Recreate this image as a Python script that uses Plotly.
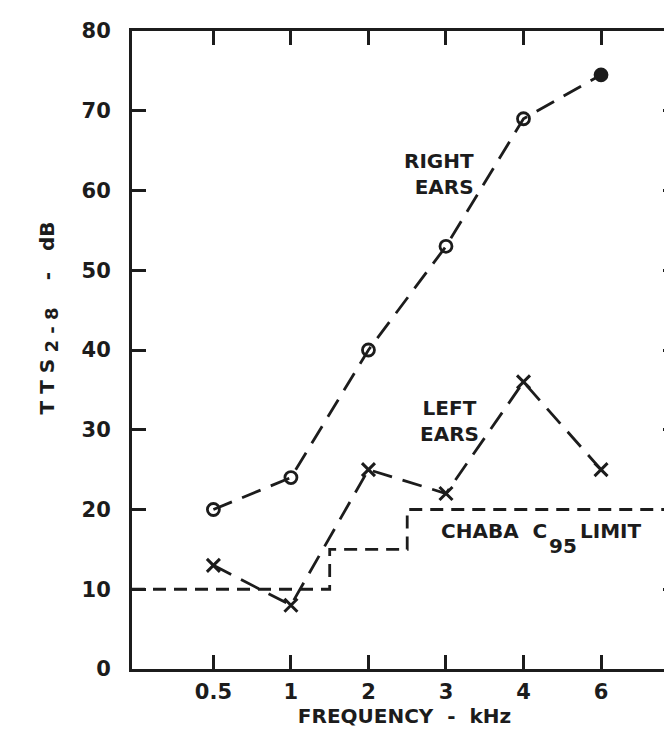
import plotly.graph_objects as go

freq_labels = ["0.5", "1", "2", "3", "4", "6"]
right_ears = [20, 24, 40, 53, 69, 74.5]
left_ears = [13, 8, 25, 22, 36, 25]
# CHABA C95 limit steps (positions on the category index scale)
limit_x = [-1.05, 1.5, 2.5, 5.98]
limit_y = [10, 15, 20, 20]
y_ticks = [0, 10, 20, 30, 40, 50, 60, 70, 80]

INK = "#1c1c1c"
FONT = "DejaVu Sans"
idx = list(range(len(freq_labels)))

fig = go.Figure()

fig.add_trace(go.Scatter(
    x=limit_x, y=limit_y, mode="lines", line_shape="hv",
    line=dict(color=INK, width=2.8, dash="13px,8px"), hoverinfo="skip"))

fig.add_trace(go.Scatter(
    x=idx, y=right_ears, mode="lines+markers",
    line=dict(color=INK, width=2.8, dash="20px,11px"),
    marker=dict(symbol=["circle-open"] * 5 + ["circle"], size=12, color=INK,
                line=dict(color=INK, width=2.8))))

fig.add_trace(go.Scatter(
    x=idx, y=left_ears, mode="lines+markers",
    line=dict(color=INK, width=2.8, dash="20px,11px"),
    marker=dict(symbol="x-thin-open", size=13, color=INK,
                line=dict(color=INK, width=3))))

tf = dict(family=FONT, size=21, color=INK, weight="bold")
axis_common = dict(showgrid=False, zeroline=False, showline=True, linecolor=INK,
                   linewidth=3, mirror="ticks", ticks="inside", ticklen=14,
                   tickwidth=2.8, tickcolor=INK, tickfont=tf)

fig.update_xaxes(range=[-1.05, 5.98], tickmode="array", tickvals=idx,
                 ticktext=freq_labels, ticklabelstandoff=2,
                 title=dict(text="FREQUENCY  -  kHz",
                            font=dict(family=FONT, size=20, color=INK, weight="bold"),
                            standoff=4),
                 **axis_common)
fig.update_yaxes(range=[0, 80], tickmode="array", tickvals=y_ticks,
                 ticklabelstandoff=14, **axis_common)

ann_font = dict(family=FONT, size=20, color=INK, weight="bold")
fig.add_annotation(xref="paper", yref="paper", x=-0.182, y=0.55,
                   text="T T S<sub><span style='font-size:18px'> 2 - 8 </span></sub>   -   dB",
                   textangle=-90, showarrow=False,
                   font=dict(family=FONT, size=20, color=INK, weight="bold"))
fig.add_annotation(x=2.91, y=62.1, text="RIGHT<br>EARS", align="right", showarrow=False,
                   font=ann_font)
fig.add_annotation(x=3.05, y=31.1, text="LEFT<br>EARS", showarrow=False, font=ann_font)
fig.add_annotation(x=2.91, y=17.3, xanchor="left", text="CHABA  C", showarrow=False, font=ann_font)
fig.add_annotation(x=4.3, y=15.4, xanchor="left", text="95", showarrow=False, font=ann_font)
fig.add_annotation(x=4.7, y=17.3, xanchor="left", text="LIMIT", showarrow=False, font=ann_font)

fig.update_layout(width=672, height=730, margin=dict(l=124, r=0, t=23, b=69),
                  paper_bgcolor="white", plot_bgcolor="white", showlegend=False)

fig.write_html("out.html")
